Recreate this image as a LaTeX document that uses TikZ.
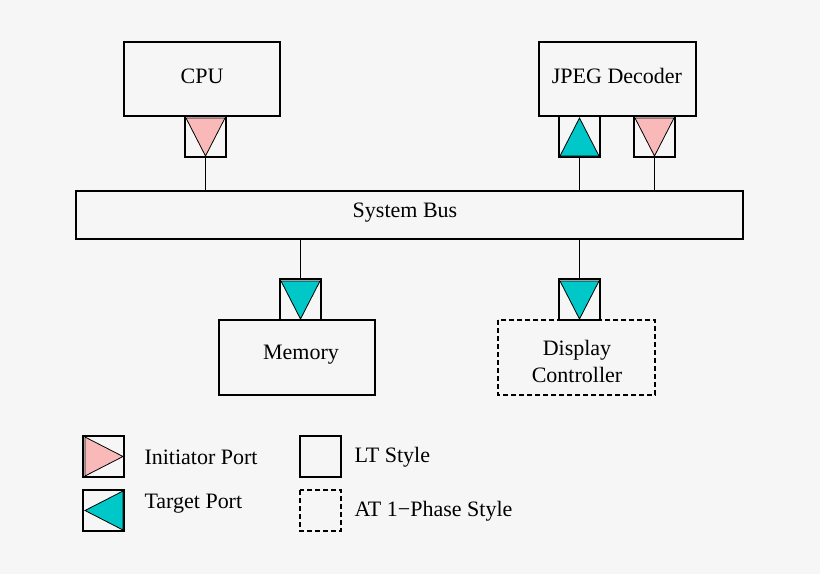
\documentclass[tikz,border=0pt]{standalone}
\usepackage{fontspec}
\setmainfont{Liberation Serif}
\begin{document}
\begin{tikzpicture}[x=1pt,y=-1pt,
  box/.style={draw=black,line width=1.2pt},
  dbox/.style={draw=black,line width=1.2pt,dash pattern=on 5pt off 3pt},
  pink/.style={fill=pinkc,draw=black,line width=0.8pt},
  cyan/.style={fill=cyanc,draw=black,line width=0.8pt},
  ln/.style={draw=black,line width=1.2pt},
  lbl/.style={font=\fontsize{22}{26}\selectfont,align=center}]
\definecolor{pinkc}{RGB}{250,185,185}
\definecolor{cyanc}{RGB}{0,200,200}
\fill[gray!7] (0,0) rectangle (820,574);
\useasboundingbox (0,0) rectangle (820,574);
% CPU
\draw[box] (124,42) rectangle (280,116);
\node[lbl] (cpu) at (202,76) {CPU};
\draw[box] (185,116) rectangle (226,157);
\draw[pink] (186,118) -- (225,118) -- (205.5,156) -- cycle;
% JPEG
\draw[box] (539,42) rectangle (696,116);
\node[lbl] (jpeg) at (617,76) {JPEG Decoder};
\draw[box] (559,116) rectangle (600,157);
\draw[cyan] (560,156) -- (599,156) -- (579.5,118) -- cycle;
\draw[box] (634,116) rectangle (675,157);
\draw[pink] (635,118) -- (674,118) -- (654.5,156) -- cycle;
% bus
\draw[box] (76,191) rectangle (743,239);
\node[lbl] (bus) at (405,213) {System Bus};
\draw[ln] (205.5,157) -- (205.5,191);
\draw[ln] (579.5,157) -- (579.5,191);
\draw[ln] (654.5,157) -- (654.5,191);
% memory
\draw[ln] (300.5,239) -- (300.5,279);
\draw[box] (280,279) rectangle (321,320);
\draw[cyan] (281,281) -- (320,281) -- (300.5,319) -- cycle;
\draw[box] (219,320) rectangle (375,395);
\node[lbl] (mem) at (301,355) {Memory};
% display
\draw[ln] (579.5,239) -- (579.5,279);
\draw[box] (559,279) rectangle (600,320);
\draw[cyan] (560,281) -- (599,281) -- (579.5,319) -- cycle;
\draw[dbox] (498,320) rectangle (655,395);
\node[lbl,font=\fontsize{22}{27}\selectfont] (disp) at (577,361) {Display\\Controller};
% legend
\draw[box] (83,436) rectangle (124,477);
\draw[pink] (85,437) -- (85,476) -- (123,456.5) -- cycle;
\node[lbl,anchor=west] (ip) at (141,457) {Initiator Port};
\draw[box] (83,490) rectangle (124,531);
\draw[cyan] (123,491) -- (123,530) -- (85,510.5) -- cycle;
\node[lbl,anchor=west] (tp) at (141,504) {Target Port};
\draw[box] (300,436) rectangle (341,477);
\node[lbl,anchor=west] (lt) at (351,457) {LT Style};
\draw[dbox] (300,490) rectangle (341,531);
\node[lbl,anchor=west] (at) at (351,511) {AT 1{\textminus}Phase Style};
\end{tikzpicture}
\end{document}
